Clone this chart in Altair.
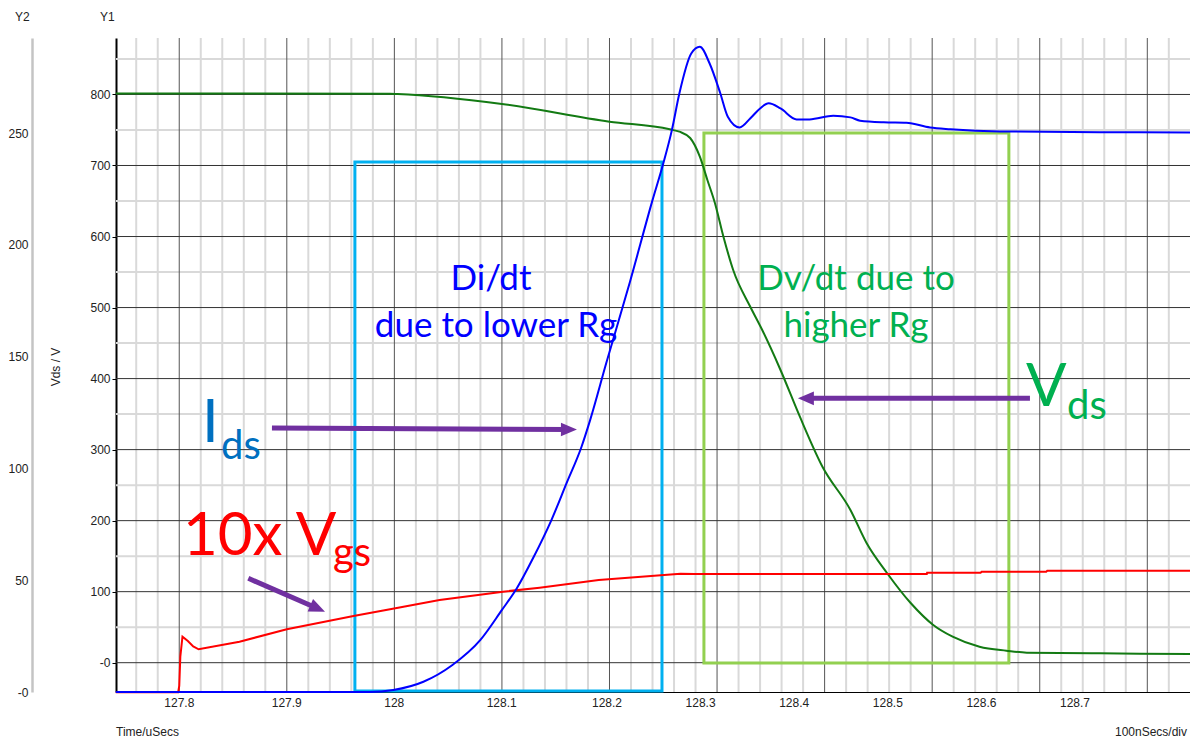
import altair as alt
import pandas as pd

# ---------------- data ----------------
# Vds (Y1, volts) vs time (uSecs)
vds_t = [127.741, 127.996, 128.003, 128.100, 128.200, 128.256, 128.265, 128.275, 128.284, 128.291,
         128.298, 128.306, 128.315, 128.331, 128.342, 128.359, 128.377, 128.398, 128.424, 128.439,
         128.458, 128.480, 128.501, 128.519, 128.544, 128.569, 128.588, 128.656, 128.740]
vds_v = [801.4, 801.0, 800.6, 786.6, 761.7, 751.0, 747.6, 738.7, 712.4, 679.6,
         647.2, 599.3, 552.9, 500.8, 468.4, 412.1, 346.3, 275.9, 215.0, 168.5,
         126.3, 84.0, 53.1, 36.6, 22.5, 16.9, 14.1, 13.2, 12.2]

# Ids (Y2, amps)
ids_t = [127.741, 127.977, 127.999, 128.027, 128.054, 128.080, 128.100, 128.114, 128.129, 128.146,
         128.160, 128.174, 128.182, 128.197, 128.219, 128.240, 128.250, 128.258, 128.265, 128.276,
         128.284, 128.293, 128.303, 128.310, 128.321, 128.331, 128.340, 128.348, 128.359, 128.374,
         128.386, 128.408, 128.424, 128.433, 128.455, 128.476, 128.498, 128.517, 128.563, 128.656,
         128.740]
ids_v = [0, 0, 0.9, 4.6, 12.1, 23.3, 36.7, 46.5, 59.9, 76.9,
         93.3, 109.7, 121.6, 147.1, 183.4, 220.0, 236.4, 251.3, 267.8, 285.6,
         288.6, 281.2, 267.8, 257.3, 252.5, 256.6, 261.0, 263.3, 261.0, 256.1,
         256.1, 257.7, 257.0, 255.5, 254.8, 254.6, 252.5, 251.7, 250.7, 250.4,
         250.2]

# 10x Vgs (Y1)
vgs_t = [127.741, 127.799, 127.800, 127.801, 127.803, 127.808, 127.813, 127.818, 127.856, 127.900,
         127.962, 128.001, 128.042, 128.101, 128.135, 128.190, 128.266, 128.279, 128.495, 128.4953,
         128.545, 128.546, 128.606, 128.607, 128.740]
vgs_v = [-41.5, -41.5, -32.8, 8.4, 36.6, 30.6, 22.8, 18.9, 29.6, 47.0,
         65.7, 76.6, 88.3, 100.0, 105.6, 116.4, 125.4, 124.9, 124.9, 126.7,
         126.7, 128.1, 128.1, 129.5, 129.5]

x_ticks = [127.8, 127.9, 128.0, 128.1, 128.2, 128.3, 128.4, 128.5, 128.6, 128.7]
x_tick_labels = ["127.8", "127.9", "128", "128.1", "128.2", "128.3", "128.4", "128.5", "128.6", "128.7"]
y1_major = [0, 100, 200, 300, 400, 500, 600, 700, 800]
y1_minor = [50, 150, 250, 350, 450, 550, 650, 750, 850]
y2_ticks = [0, 50, 100, 150, 200, 250]
x_minor = [round(m + d, 2) for m in [127.7] + x_ticks for d in (0.02, 0.04, 0.06, 0.08)
           if 127.7412 < m + d < 128.7397]

# highlight boxes (time, Y1)
box_x1 = [127.9633, 128.2878]
box_x2 = [128.2488, 128.5713]
box_top = [704.9, 745.7]
box_bot = [-40.0, -0.5]
box_col = ["#00b0f0", "#92d050"]

# arrows (time, Y1): start -> head
arr_x1 = [127.8862, 128.5909, 127.8642]
arr_y1 = [330.4, 372.2, 118.8]
arr_x2 = [128.1623, 128.3826, 127.9287]
arr_y2 = [328.3, 372.2, 76.3]
arr_ang = [0.3, 180, 23.5]

# ---------------- scales ----------------
xs = alt.Scale(domain=[127.7412, 128.7397], nice=False, zero=False)
y1s = alt.Scale(domain=[-41.25, 879.5], nice=False, zero=False)
y2s = alt.Scale(domain=[0, 292.5], nice=False, zero=False)
xlab_s = alt.Scale(domain=[127.8, 128.1, 128.2, 128.7], range=[63.3, 385.7, 491, 959], nice=False, zero=False)

SMALL = "Liberation Sans"
BIG = "Lato"

X0 = alt.X("v:Q", scale=xs, axis=None)

# ---------------- layers ----------------
g_minor_x = alt.Chart(pd.DataFrame({"v": x_minor})).mark_rule(color="#d9d9d9", strokeWidth=2).encode(x=X0)
g_minor_y = alt.Chart(pd.DataFrame({"v": y1_minor})).mark_rule(color="#d9d9d9", strokeWidth=2).encode(
    y=alt.Y("v:Q", scale=y1s, axis=None))
g_major_x = alt.Chart(pd.DataFrame({"v": x_ticks})).mark_rule(color="#555555", strokeWidth=1).encode(
    x=alt.X("v:Q", scale=xs, axis=alt.Axis(labels=False, ticks=False, grid=False, title=None,
                                          domain=True, domainColor="#000000", domainWidth=1)))
g_major_y = alt.Chart(pd.DataFrame({"v": y1_major})).mark_rule(color="#333333", strokeWidth=1).encode(
    y=alt.Y("v:Q", scale=y1s, axis=alt.Axis(
        values=y1_major, grid=False, title=None, orient="left",
        labelExpr="datum.value == 0 ? '-0' : datum.label",
        labelFont=SMALL, labelFontSize=12, labelColor="#222222", labelPadding=2,
        ticks=True, tickColor="#000000", tickSize=4, tickWidth=1,
        domain=True, domainColor="#000000", domainWidth=2)))

boxes = alt.Chart(pd.DataFrame({"x1": box_x1, "x2": box_x2, "t": box_top, "b": box_bot, "c": box_col})).mark_rect(
    fillOpacity=0, strokeWidth=3).encode(
    x=alt.X("x1:Q", scale=xs, axis=None), x2="x2:Q",
    y=alt.Y("t:Q", scale=y1s, axis=None), y2="b:Q",
    stroke=alt.Stroke("c:N", scale=None))

vds_line = alt.Chart(pd.DataFrame({"t": vds_t, "v": vds_v})).mark_line(
    color="#137a13", strokeWidth=2, interpolate="monotone").encode(
    x=alt.X("t:Q", scale=xs, axis=None), y=alt.Y("v:Q", scale=y1s, axis=None))

vgs_line = alt.Chart(pd.DataFrame({"t": vgs_t, "v": vgs_v})).mark_line(
    color="#ff0000", strokeWidth=2).encode(
    x=alt.X("t:Q", scale=xs, axis=None), y=alt.Y("v:Q", scale=y1s, axis=None))

ids_line = alt.Chart(pd.DataFrame({"t": ids_t, "v": ids_v})).mark_line(
    color="#0000ff", strokeWidth=2, interpolate="monotone").encode(
    x=alt.X("t:Q", scale=xs, axis=None),
    y=alt.Y("v:Q", scale=y2s, axis=alt.Axis(
        values=y2_ticks, grid=False, title=None, orient="left", offset=84,
        labelExpr="datum.value == 0 ? '-0' : datum.label",
        labelFont=SMALL, labelFontSize=12, labelColor="#222222", labelPadding=4,
        ticks=False, domainColor="#c4c4c4", domainWidth=2.5)))

arr_df = pd.DataFrame({"x1": arr_x1, "y1": arr_y1, "x2": arr_x2, "y2": arr_y2, "a": arr_ang})
arr_lines = alt.Chart(arr_df).mark_rule(color="#7030a0", strokeWidth=5).encode(
    x=alt.X("x1:Q", scale=xs, axis=None), x2="x2:Q",
    y=alt.Y("y1:Q", scale=y1s, axis=None), y2="y2:Q")
arr_heads = alt.Chart(arr_df).mark_point(
    shape="M-1,-0.85L1,0L-1,0.85Z", filled=True, size=256, color="#7030a0", opacity=1, strokeWidth=0).encode(
    x=alt.X("x2:Q", scale=xs, axis=None), y=alt.Y("y2:Q", scale=y1s, axis=None),
    angle=alt.Angle("a:Q", scale=None))

xlabels = alt.Chart(pd.DataFrame({"t": x_ticks, "lab": x_tick_labels})).mark_text(
    font=SMALL, fontSize=12, color="#222222", baseline="alphabetic", align="center").encode(
    x=alt.X("t:Q", scale=xlab_s, axis=None), y=alt.value(669), text="lab:N")

# annotations in pixel space (relative to plot origin)
big_df = pd.DataFrame({
    "txt": ["I", "ds", "V", "ds", "10x V", "gs"],
    "px": [86, 105, 910, 951, 67, 217],
    "py": [404, 421, 368, 381, 517, 528],
    "fs": [60, 40, 60, 40, 60, 40],
    "col": ["#0070c0", "#0070c0", "#00b050", "#00b050", "#ff0000", "#ff0000"],
})
big_text = alt.Chart(big_df).mark_text(font=BIG, align="left", baseline="alphabetic").encode(
    x=alt.X("px:Q", scale=None, axis=None), y=alt.Y("py:Q", scale=None, axis=None),
    text="txt:N", size=alt.Size("fs:Q", scale=None), color=alt.Color("col:N", scale=None))

mid_df = pd.DataFrame({
    "txt": ["Di/dt", "due to lower Rg", "Dv/dt due to", "higher Rg"],
    "px": [375, 380, 740, 740],
    "py": [252, 299, 252, 299],
    "col": ["#0000ff", "#0000ff", "#00b050", "#00b050"],
})
mid_text = alt.Chart(mid_df).mark_text(font=BIG, fontSize=35, align="center", baseline="alphabetic").encode(
    x=alt.X("px:Q", scale=None, axis=None), y=alt.Y("py:Q", scale=None, axis=None),
    text="txt:N", color=alt.Color("col:N", scale=None))

small_df = pd.DataFrame({
    "txt": ["Time/uSecs", "Y2", "Y1"],
    "px": [0, -101, -16],
    "py": [698, -17, -17],
})
small_text = alt.Chart(small_df).mark_text(font=SMALL, fontSize=12, color="#222222", align="left",
                                          baseline="alphabetic").encode(
    x=alt.X("px:Q", scale=None, axis=None), y=alt.Y("py:Q", scale=None, axis=None), text="txt:N")

right_text = alt.Chart(pd.DataFrame({"txt": ["100nSecs/div"], "px": [1071], "py": [698]})).mark_text(
    font=SMALL, fontSize=12, color="#222222", align="right", baseline="alphabetic").encode(
    x=alt.X("px:Q", scale=None, axis=None), y=alt.Y("py:Q", scale=None, axis=None), text="txt:N")

ytitle = alt.Chart(pd.DataFrame({"txt": ["Vds / V"], "px": [-60], "py": [329]})).mark_text(
    font=SMALL, fontSize=12, color="#222222", align="center", baseline="middle", angle=270).encode(
    x=alt.X("px:Q", scale=None, axis=None), y=alt.Y("py:Q", scale=None, axis=None), text="txt:N")

chart = alt.layer(
    g_minor_x, g_minor_y, g_major_x, g_major_y, boxes, vds_line, vgs_line, ids_line,
    arr_lines, arr_heads, xlabels, big_text, mid_text, small_text, right_text, ytitle
).resolve_scale(x="independent", y="independent").properties(
    width=1074, height=654,
    autosize=alt.AutoSizeParams(type="none"),
    padding={"left": 116, "top": 38, "right": 0, "bottom": 49},
    background="white",
).configure_view(stroke=None)

chart.save("out.html", embed_options={"renderer": "svg", "actions": False})
